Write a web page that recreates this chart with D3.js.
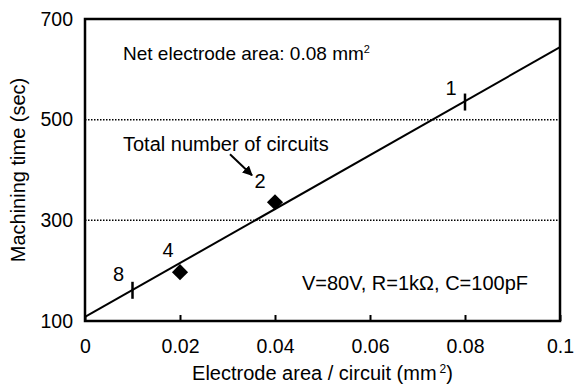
<!DOCTYPE html>
<html>
<head>
<meta charset="utf-8">
<script src="https://cdn.jsdelivr.net/npm/d3@7"></script>
<style>
  body { margin: 0; background: #fff; }
  svg text { font-family: "Liberation Sans", Arial, sans-serif; fill: #000; }
</style>
</head>
<body>
<div id="chart"></div>
<script>
// values
var xTicks = [0, 0.02, 0.04, 0.06, 0.08, 0.1];
var yTicks = [100, 300, 500, 700];
var gridY = [300, 500];

// fitted line
var fitX = [0, 0.1];
var fitY = [108, 644];

// measured points (diamonds) and line marks (bars)
var diamondX = [0.02, 0.04];
var diamondY = [197, 336];
var barX = [0.01, 0.08];
var barY = [162, 536];

// total number of circuits for each point
var circuitX = [0.01, 0.02, 0.04, 0.08];
var circuitY = [162, 197, 336, 536];
var circuitLabels = ["8", "4", "2", "1"];

var margin = { top: 19, right: 17, bottom: 64, left: 85 },
    width = 577 - margin.left - margin.right,
    height = 385 - margin.top - margin.bottom;

var svg = d3.select("#chart")
  .append("svg")
  .attr("width", 577)
  .attr("height", 385)
  .append("g")
  .attr("transform", "translate(" + margin.left + "," + margin.top + ")");

var x = d3.scaleLinear().domain([0, 0.1]).range([0, width]);
var y = d3.scaleLinear().domain([100, 700]).range([height, 0]);

var fontSize = 20;
var tickFont = 19.5;

// dotted grid lines
svg.selectAll(".grid")
  .data(gridY)
  .enter()
  .append("line")
  .attr("class", "grid")
  .attr("x1", 0)
  .attr("x2", width)
  .attr("y1", function(d) { return y(d); })
  .attr("y2", function(d) { return y(d); })
  .attr("stroke", "#000")
  .attr("stroke-width", 1.5)
  .attr("stroke-dasharray", "1.5,1.5");

// x axis: inner ticks, labels below
var xAxis = svg.append("g")
  .attr("transform", "translate(0," + height + ")")
  .call(d3.axisBottom(x).tickValues(xTicks).tickSize(-6).tickPadding(18)
    .tickFormat(function(d) { return String(+d.toFixed(2)); }));
xAxis.select(".domain").remove();
xAxis.selectAll("line").attr("stroke-width", 2);
xAxis.selectAll("text").attr("font-size", tickFont).attr("font-family", null);

var yAxis = svg.append("g")
  .call(d3.axisLeft(y).tickValues(yTicks).tickSize(0).tickPadding(12));
yAxis.select(".domain").remove();
yAxis.selectAll("text").attr("font-size", tickFont).attr("font-family", null);

// frame
svg.append("rect")
  .attr("x", 0)
  .attr("y", 0)
  .attr("width", width)
  .attr("height", height)
  .attr("fill", "none")
  .attr("stroke", "#000")
  .attr("stroke-width", 2.5);

// fitted line
var line = d3.line()
  .x(function(d) { return x(d[0]); })
  .y(function(d) { return y(d[1]); });

svg.append("path")
  .datum(d3.zip(fitX, fitY))
  .attr("d", line)
  .attr("fill", "none")
  .attr("stroke", "#000")
  .attr("stroke-width", 2);

// bars on the line
svg.selectAll(".bar-mark")
  .data(d3.zip(barX, barY))
  .enter()
  .append("line")
  .attr("class", "bar-mark")
  .attr("x1", function(d) { return x(d[0]); })
  .attr("x2", function(d) { return x(d[0]); })
  .attr("y1", function(d) { return y(d[1]) - 8; })
  .attr("y2", function(d) { return y(d[1]) + 9; })
  .attr("stroke", "#000")
  .attr("stroke-width", 2.5);

// diamonds
svg.selectAll(".diamond")
  .data(d3.zip(diamondX, diamondY))
  .enter()
  .append("path")
  .attr("class", "diamond")
  .attr("d", d3.symbol().type(d3.symbolSquare).size(130))
  .attr("transform", function(d) {
    return "translate(" + x(d[0]) + "," + y(d[1]) + ") rotate(45)";
  })
  .attr("fill", "#000");

// circuit count labels
var labelOffset = [[-14, -9], [-12, -15], [-15, -14], [-14, -7]];
svg.selectAll(".count")
  .data(circuitLabels)
  .enter()
  .append("text")
  .attr("class", "count")
  .attr("x", function(d, i) { return x(circuitX[i]) + labelOffset[i][0]; })
  .attr("y", function(d, i) { return y(circuitY[i]) + labelOffset[i][1]; })
  .attr("text-anchor", "middle")
  .attr("font-size", fontSize)
  .text(function(d) { return d; });

// arrow pointing at "2"
svg.append("defs").append("marker")
  .attr("id", "head")
  .attr("viewBox", "0 0 10 10")
  .attr("refX", 9)
  .attr("refY", 5)
  .attr("markerWidth", 5)
  .attr("markerHeight", 5)
  .attr("orient", "auto")
  .append("path")
  .attr("d", "M0,0L10,5L0,10z")
  .attr("fill", "#000");

var px = x(diamondX[1]), py = y(diamondY[1]);
svg.append("line")
  .attr("x1", px - 45)
  .attr("y1", py - 48)
  .attr("x2", px - 23)
  .attr("y2", py - 27)
  .attr("stroke", "#000")
  .attr("stroke-width", 2)
  .attr("marker-end", "url(#head)");

// annotations
svg.append("text")
  .attr("x", 38)
  .attr("y", 132)
  .attr("font-size", fontSize)
  .text("Total number of circuits");

var net = svg.append("text")
  .attr("x", 38)
  .attr("y", 41)
  .attr("font-size", 19)
  .text("Net electrode area: 0.08 mm");
net.append("tspan")
  .attr("font-size", 11)
  .attr("dy", -7)
  .text("2");

svg.append("text")
  .attr("x", 443)
  .attr("y", 271)
  .attr("text-anchor", "end")
  .attr("font-size", fontSize)
  .text("V=80V, R=1kΩ, C=100pF");

// axis titles
var xt = svg.append("text")
  .attr("x", width / 2)
  .attr("y", height + 59)
  .attr("text-anchor", "middle")
  .attr("font-size", fontSize)
  .text("Electrode area / circuit (mm");
xt.append("tspan").attr("font-size", 12).attr("dx", 3).attr("dy", -7).text("2");
xt.append("tspan").attr("dy", 7).text(")");

svg.append("text")
  .attr("transform", "translate(-60," + height / 2 + ") rotate(-90)")
  .attr("text-anchor", "middle")
  .attr("font-size", fontSize)
  .text("Machining time (sec)");
</script>
</body>
</html>
